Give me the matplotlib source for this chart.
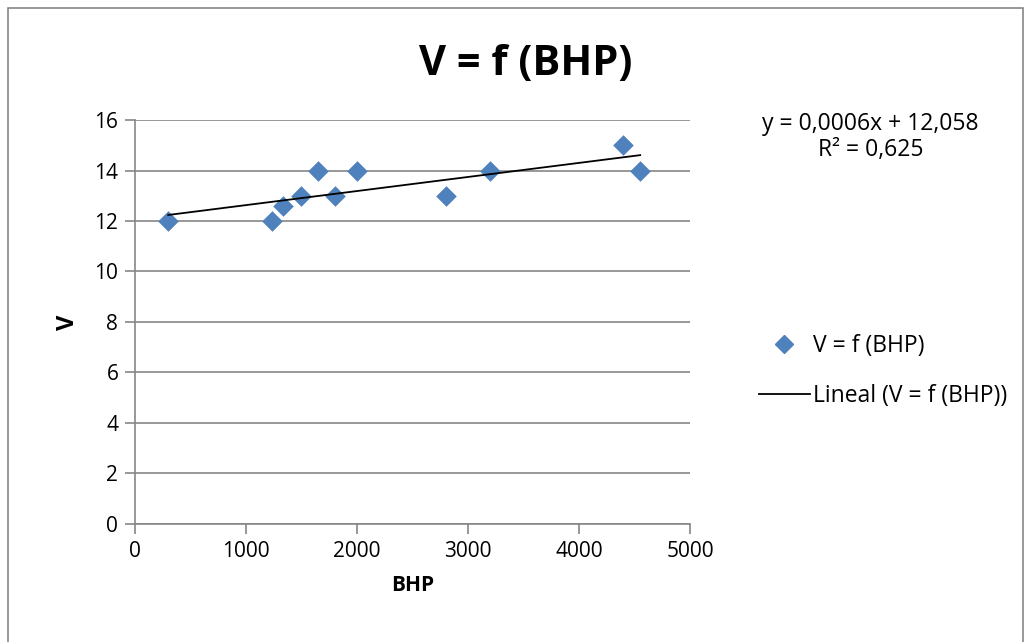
import matplotlib.pyplot as plt
import numpy as np
from matplotlib.lines import Line2D
from matplotlib.patches import Rectangle

plt.rcParams['font.family'] = ['Open Sans', 'DejaVu Sans']

# data
bhp = [300, 1230, 1330, 1500, 1650, 1800, 2000, 2800, 3200, 4400, 4550]
v = [12, 12, 12.6, 13, 14, 13, 14, 13, 14, 15, 14]
eq_text = "y = 0,0006x + 12,058"
r2_text = "R² = 0,625"

fig = plt.figure(figsize=(10.3, 6.42), dpi=100)
ax = fig.add_axes([0.131, 0.184, 0.539, 0.629])

ax.scatter(bhp, v, marker='D', s=110, color='#4f81bd', zorder=3, linewidths=0)

coef = np.polyfit(bhp, v, 1)
xs = np.array([min(bhp), max(bhp)])
ax.plot(xs, np.polyval(coef, xs), color='black', lw=1.3, zorder=4)

ax.set_xlim(0, 5000)
ax.set_ylim(0, 16)
ax.set_xticks(range(0, 5001, 1000))
ax.set_yticks(range(0, 17, 2))
ax.yaxis.grid(True, color='#868686', lw=1.2)
ax.set_axisbelow(True)
for s in ['top', 'right']:
    ax.spines[s].set_visible(False)
for s in ['left', 'bottom']:
    ax.spines[s].set_color('#868686')
    ax.spines[s].set_linewidth(1.2)
ax.tick_params(axis='both', length=7, width=1.2, color='#868686', labelsize=15, pad=5)

ax.set_xlabel('BHP', fontsize=15, fontweight='bold', labelpad=10)
ax.set_ylabel('V', fontsize=17, fontweight='bold', labelpad=10)

fig.text(0.51, 0.899, 'V = f (BHP)', ha='center', va='center', fontsize=30, fontweight='bold')
fig.text(0.845, 0.807, eq_text, ha='center', va='center', fontsize=16.5)
fig.text(0.845, 0.766, r2_text, ha='center', va='center', fontsize=16.5)

handles = [Line2D([], [], marker='D', ls='none', color='#4f81bd', markersize=9),
           Line2D([], [], color='black', lw=1.3)]
fig.legend(handles, ['V = f (BHP)', 'Lineal (V = f (BHP))'], loc='center left',
           bbox_to_anchor=(0.717, 0.422), frameon=False, fontsize=16.5,
           handlelength=2.2, handletextpad=0.15, labelspacing=1.15)

fig.patches.append(Rectangle((0.008, -0.01), 0.985, 0.998, transform=fig.transFigure,
                             fill=False, edgecolor='#868686', lw=1.2))

fig.savefig('out.png', dpi=100)
